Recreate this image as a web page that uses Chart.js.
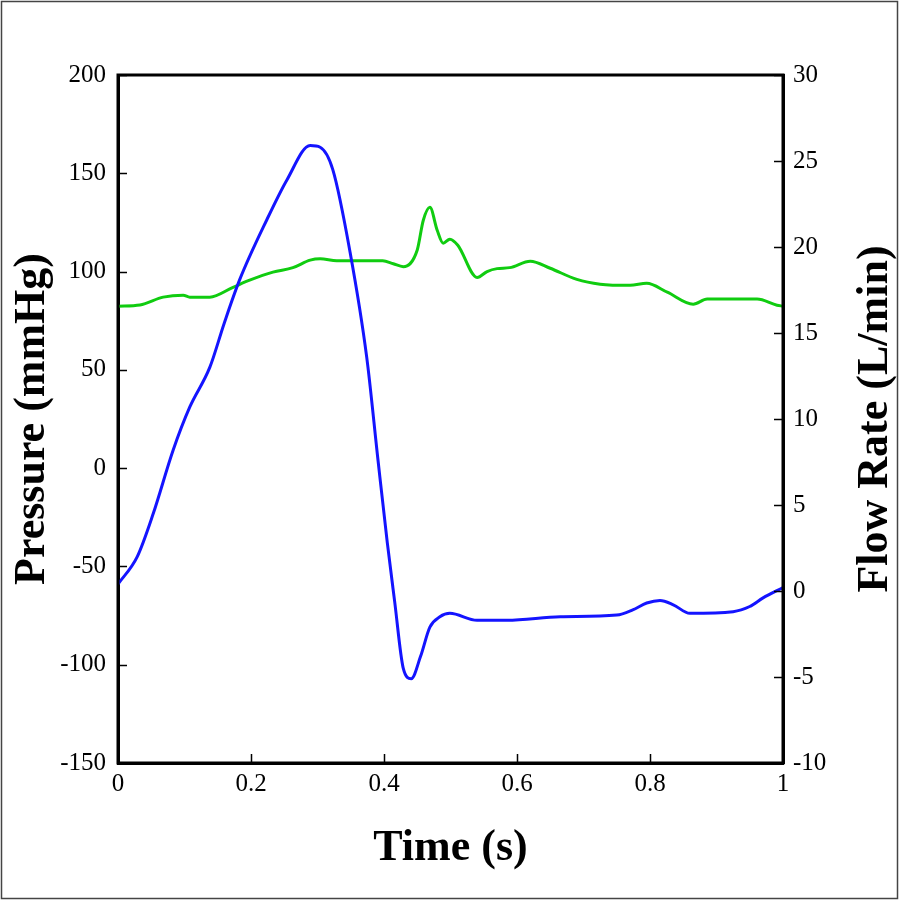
<!DOCTYPE html>
<html>
<head>
<meta charset="utf-8">
<script src="https://cdn.jsdelivr.net/npm/chart.js@4.4.1/dist/chart.umd.min.js"></script>
<style>
  html, body { margin: 0; padding: 0; background: #fff; }
  canvas { display: block; }
</style>
</head>
<body>
<canvas id="chart" width="899" height="900"></canvas>
<script>
// flow rate (L/min), right axis
const flowTime = [0, 0.029, 0.053, 0.083, 0.108, 0.138, 0.160, 0.183, 0.224, 0.254, 0.289, 0.304, 0.323, 0.349, 0.374, 0.391, 0.405, 0.416, 0.429, 0.441, 0.455, 0.469, 0.484, 0.499, 0.540, 0.585, 0.665, 0.750, 0.774, 0.795, 0.815, 0.835, 0.860, 0.925, 0.950, 0.970, 1.0];
const flowValues = [0.4, 2.0, 4.5, 8.2, 10.7, 13.0, 15.6, 18.1, 21.6, 23.9, 25.9, 25.8, 24.5, 19.7, 13.6, 7.6, 2.8, -0.6, -4.5, -5.1, -3.8, -2.1, -1.5, -1.3, -1.7, -1.7, -1.5, -1.4, -1.1, -0.7, -0.55, -0.8, -1.3, -1.2, -0.9, -0.4, 0.2];

// pressure (mmHg), left axis
const pressureTime = [0, 0.033, 0.068, 0.098, 0.108, 0.138, 0.173, 0.198, 0.233, 0.263, 0.289, 0.304, 0.329, 0.398, 0.414, 0.429, 0.450, 0.459, 0.469, 0.480, 0.489, 0.499, 0.511, 0.540, 0.555, 0.570, 0.589, 0.620, 0.650, 0.690, 0.725, 0.770, 0.795, 0.826, 0.865, 0.886, 0.961, 0.991, 1.0];
const pressureValues = [82.4, 83, 87, 88, 87, 87, 92, 95.6, 99.7, 102, 105.8, 106.5, 105.5, 105.5, 104, 102.5, 111, 126, 132.7, 121, 114.4, 116.5, 113.4, 97, 100, 101.5, 102, 105.3, 101.7, 96, 93.6, 93, 94, 89.5, 83.4, 86, 86, 82.9, 82.4];

const xTicks = ["0", "0.2", "0.4", "0.6", "0.8", "1"];

const flowPoints = flowTime.map((t, i) => ({ x: t, y: flowValues[i] }));
const pressurePoints = pressureTime.map((t, i) => ({ x: t, y: pressureValues[i] }));

const serif = "'Liberation Serif', 'Times New Roman', serif";
const TICK_LEN = 9;

// white background, inward tick marks, box, outer frame and the right title
const framePlugin = {
  id: "frame",
  beforeDraw(chart) {
    const ctx = chart.ctx;
    ctx.save();
    ctx.fillStyle = "#fff";
    ctx.fillRect(0, 0, chart.width, chart.height);
    ctx.restore();
  },
  afterDraw(chart) {
    const ctx = chart.ctx;
    const a = chart.chartArea;
    ctx.save();

    // tick marks pointing into the plot
    ctx.strokeStyle = "#000";
    ctx.lineWidth = 1.5;
    ctx.beginPath();
    const sx = chart.scales.x;
    sx.ticks.forEach((t) => {
      const px = Math.round(sx.getPixelForValue(t.value)) + 0.5;
      ctx.moveTo(px, a.bottom);
      ctx.lineTo(px, a.bottom - TICK_LEN);
    });
    const sl = chart.scales.yPressure;
    sl.ticks.forEach((t) => {
      const py = Math.round(sl.getPixelForValue(t.value)) + 0.5;
      ctx.moveTo(a.left, py);
      ctx.lineTo(a.left + TICK_LEN, py);
    });
    const sr = chart.scales.yFlow;
    sr.ticks.forEach((t) => {
      const py = Math.round(sr.getPixelForValue(t.value)) + 0.5;
      ctx.moveTo(a.right, py);
      ctx.lineTo(a.right - TICK_LEN, py);
    });
    ctx.stroke();

    ctx.lineWidth = 3;
    ctx.strokeRect(a.left, a.top, a.right - a.left, a.bottom - a.top);

    ctx.strokeStyle = "#444";
    ctx.lineWidth = 1.5;
    ctx.strokeRect(1.5, 1.5, chart.width - 3, chart.height - 3);

    // right title reads bottom-to-top like the left one
    ctx.translate(876, (a.top + a.bottom) / 2);
    ctx.rotate(-Math.PI / 2);
    ctx.font = "bold 44px " + serif;
    ctx.fillStyle = "#000";
    ctx.textAlign = "center";
    ctx.textBaseline = "middle";
    ctx.fillText("Flow Rate (L/min)", 0, 0);
    ctx.restore();
  },
};

const noGrid = { display: false, drawTicks: false, tickLength: 0 };

const ctx = document.getElementById("chart").getContext("2d");
new Chart(ctx, {
  type: "line",
  data: {
    datasets: [
      {
        label: "Flow Rate",
        data: flowPoints,
        yAxisID: "yFlow",
        borderColor: "#1414ff",
        borderWidth: 3,
        pointRadius: 0,
        cubicInterpolationMode: "monotone",
        fill: false,
      },
      {
        label: "Pressure",
        data: pressurePoints,
        yAxisID: "yPressure",
        borderColor: "#10cc10",
        borderWidth: 3,
        pointRadius: 0,
        cubicInterpolationMode: "monotone",
        fill: false,
      },
    ],
  },
  options: {
    responsive: false,
    animation: false,
    layout: { padding: { top: 75, left: 0, right: 0, bottom: 0 } },
    plugins: {
      legend: { display: false },
      tooltip: { enabled: false },
    },
    scales: {
      x: {
        type: "linear",
        position: "bottom",
        min: 0,
        max: 1,
        afterFit: (scale) => { scale.height = 137; },
        afterBuildTicks: (scale) => {
          scale.ticks = xTicks.map((t) => ({ value: parseFloat(t) }));
        },
        ticks: {
          color: "#000",
          font: { family: serif, size: 25 },
          padding: 6,
          maxRotation: 0,
          callback: (v) => xTicks.find((t) => parseFloat(t) === v),
        },
        grid: noGrid,
        border: { display: true, color: "#000", width: 3 },
        title: {
          display: true,
          text: "Time (s)",
          color: "#000",
          font: { family: serif, size: 44, weight: "bold" },
          padding: { top: 0, bottom: 25 },
        },
      },
      yPressure: {
        type: "linear",
        position: "left",
        min: -150,
        max: 200,
        afterFit: (scale) => { scale.width = 118; },
        ticks: {
          stepSize: 50,
          color: "#000",
          font: { family: serif, size: 25 },
          padding: 12,
        },
        grid: noGrid,
        border: { display: true, color: "#000", width: 3 },
        title: {
          display: true,
          text: "Pressure (mmHg)",
          color: "#000",
          font: { family: serif, size: 44, weight: "bold" },
          padding: { top: 6, bottom: 0 },
        },
      },
      yFlow: {
        type: "linear",
        position: "right",
        min: -10,
        max: 30,
        afterFit: (scale) => { scale.width = 116; },
        ticks: {
          stepSize: 5,
          color: "#000",
          font: { family: serif, size: 25 },
          padding: 10,
        },
        grid: noGrid,
        border: { display: true, color: "#000", width: 3 },
      },
    },
  },
  plugins: [framePlugin],
});
</script>
</body>
</html>
